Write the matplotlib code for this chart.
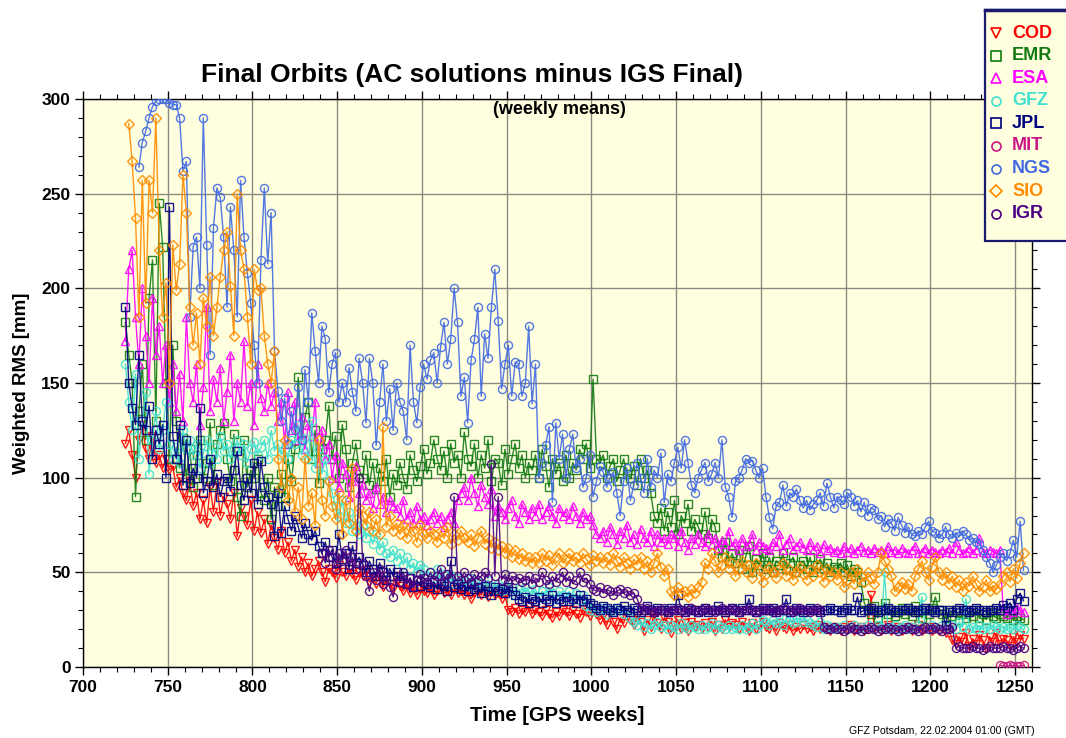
import numpy as np
import matplotlib
matplotlib.use("Agg")
import matplotlib.pyplot as plt
from matplotlib.ticker import MultipleLocator
from matplotlib.lines import Line2D
from matplotlib.patches import Rectangle

plt.rcParams['font.family'] = ['Liberation Sans', 'DejaVu Sans']

# ---------------- data (weekly means, sampled every 2nd GPS week) ----------------
names = ["COD", "EMR", "ESA", "GFZ", "JPL", "MIT", "NGS", "SIO", "IGR"]
colors = ["#FF0000", "#137A13", "#FF00FF", "#40E0D0", "#000080",
          "#C71585", "#4169E1", "#FF8C00", "#4B0082"]
markers = ["v", "s", "^", "o", "s", "o", "o", "D", "o"]
start_week = {"COD": 725, "EMR": 725, "ESA": 725, "GFZ": 725, "JPL": 725,
              "MIT": 1241, "NGS": 733, "SIO": 727, "IGR": 841}
week_step = 2

cod = [118, 125, 112, 100, 120, 128, 115, 110, 122, 108,
       112, 105, 110, 104, 106, 95, 100, 92, 88, 98,
       85, 92, 78, 88, 76, 95, 82, 97, 80, 90,
       86, 78, 92, 69, 84, 80, 75, 88, 72, 82,
       71, 78, 65, 75, 68, 62, 72, 60, 66, 56,
       62, 53, 58, 50, 55, 48, 52, 56, 50, 45,
       52, 50, 47, 54, 50, 48, 52, 49, 46, 50,
       48, 51, 45, 47, 44, 48, 42, 46, 44, 41,
       45, 43, 40, 44, 39, 42, 38, 41, 40, 39,
       41, 38, 40, 42, 39, 40, 38, 41, 39, 40,
       38, 40, 36, 39, 40, 38, 41, 37, 40, 38,
       39, 36, 38, 30, 29, 31, 28, 30, 29, 32,
       28, 30, 29, 27, 30, 28, 26, 29, 27, 30,
       29, 27, 30, 28, 26, 30, 29, 27, 30, 28,
       25, 27, 22, 28, 24, 20, 26, 23, 29, 25,
       22, 27, 24, 19, 25, 21, 28, 23, 20, 26,
       24, 18, 22, 25, 20, 23, 19, 24, 21, 22,
       20, 23, 21, 24, 19, 22, 20, 25, 21, 23,
       22, 20, 24, 21, 19, 23, 20, 22, 24, 21,
       20, 22, 19, 23, 21, 20, 22, 19, 21, 20,
       22, 20, 21, 19, 22, 20, 21, 20, 19, 21,
       20, 19, 21, 20, 22, 19, 20, 21, 19, 20,
       38, 20, 21, 19, 20, 22, 19, 20, 21, 19,
       20, 21, 19, 20, 22, 19, 20, 21, 19, 20,
       19, 20, 18, 20, 14, 12, 16, 13, 18, 11,
       15, 12, 17, 14, 10, 16, 13, 18, 12, 15,
       14, 11, 16, 13, 17, 15]

emr = [182, 165, 150, 90, 135, 160, 120, 195, 215, 130,
       245, 222, 150, 110, 170, 130, 105, 121, 100, 115,
       95, 112, 120, 100, 108, 129, 96, 118, 125, 129,
       110, 98, 123, 90, 80, 120, 95, 104, 100, 110,
       92, 88, 100, 78, 95, 85, 102, 90, 110, 98,
       115, 153, 120, 132, 140, 110, 125, 97, 115, 120,
       138, 110, 122, 100, 128, 115, 95, 108, 118, 104,
       100, 112, 96, 108, 94, 105, 98, 110, 90, 102,
       96, 108, 100, 94, 112, 104, 98, 106, 115, 102,
       108, 120, 110, 104, 114, 100, 118, 108, 112, 100,
       124, 110, 106, 118, 100, 112, 105, 120, 98, 110,
       108, 96, 115, 102, 110, 118, 105, 112, 100, 108,
       104, 112, 100, 115, 106, 95, 110, 102, 108, 98,
       112, 100, 108, 104, 115, 110, 118, 105, 152, 110,
       108, 112, 100, 106, 110, 98, 104, 110, 102, 100,
       106, 96, 110, 100, 104, 92, 80, 76, 84, 72,
       82, 74, 88, 70, 80, 76, 86, 72, 78, 74,
       70, 82, 68, 78, 74, 62, 58, 66, 56, 60,
       55, 62, 52, 58, 64, 50, 57, 54, 60, 52,
       58, 50, 56, 54, 60, 52, 55, 58, 50, 54,
       56, 52, 58, 50, 54, 57, 52, 55, 50, 53,
       52, 55, 50, 54, 48, 52, 50, 45, 34, 30,
       28, 32, 26, 30, 34, 28, 30, 27, 29, 31,
       28, 30, 27, 32, 29, 26, 30, 28, 31, 37,
       30, 28, 26, 29, 27, 30, 25, 28, 26, 29,
       27, 30, 26, 28, 25, 29, 27, 26, 28, 27,
       26, 28, 25, 27, 26, 25]

esa = [172, 210, 220, 185, 160, 200, 175, 150, 195, 165,
       180, 150, 170, 140, 160, 135, 155, 130, 185, 150,
       140, 160, 128, 148, 190, 135, 152, 140, 158, 130,
       145, 165, 130, 150, 140, 172, 138, 150, 128, 160,
       142, 135, 150, 138, 145, 130, 140, 118, 145, 125,
       140, 120, 132, 115, 128, 122, 140, 108, 125, 110,
       118, 100, 112, 95, 108, 102, 90, 98, 106, 92,
       96, 88, 92, 84, 95, 86, 90, 82, 88, 85,
       84, 80, 88, 78, 82, 76, 85, 78, 80, 75,
       78, 82, 76, 80, 74, 78, 82, 76, 88, 92,
       95, 88, 100, 92, 85, 96, 90, 86, 94, 80,
       85, 82, 78, 84, 88, 80, 76, 86, 82, 78,
       84, 80, 86, 78, 82, 85, 80, 76, 84, 80,
       82, 78, 85, 80, 76, 82, 78, 80, 75, 70,
       68, 72, 66, 74, 70, 65, 72, 68, 75, 66,
       70, 65, 73, 68, 66, 72, 64, 70, 66, 68,
       65, 70, 68, 64, 72, 66, 62, 68, 65, 70,
       66, 64, 70, 65, 68, 63, 67, 65, 72, 64,
       66, 62, 68, 64, 65, 70, 62, 66, 64, 63,
       62, 66, 64, 70, 62, 65, 68, 62, 64, 66,
       63, 62, 66, 62, 64, 60, 65, 62, 63, 61,
       62, 60, 64, 61, 63, 60, 62, 64, 61, 62,
       60, 63, 61, 62, 60, 64, 61, 62, 60, 63,
       61, 60, 62, 64, 60, 61, 63, 60, 62, 61,
       60, 62, 61, 63, 60, 66, 62, 60, 61, 63,
       60, 62, 68, 61, 60, 62, 61, 60, 62, 30,
       28, 30, 29, 31, 30, 29]

gfz = [160, 140, 125, 155, 110, 130, 145, 102, 120, 135,
       115, 125, 140, 118, 110, 116, 108, 125, 115, 120,
       112, 118, 105, 113, 120, 108, 116, 110, 122, 114,
       118, 110, 115, 120, 112, 118, 108, 115, 119, 112,
       116, 120, 110, 125, 114, 118, 112, 115, 110, 120,
       118, 128, 112, 121, 110, 130, 105, 115, 102, 110,
       98, 92, 85, 80, 88, 76, 82, 72, 78, 70,
       75, 68, 72, 65, 70, 62, 66, 60, 58, 62,
       56, 60, 54, 58, 52, 55, 50, 54, 52, 48,
       50, 47, 52, 46, 49, 45, 48, 44, 47, 45,
       46, 43, 47, 42, 45, 44, 42, 46, 43, 41,
       44, 40, 43, 41, 42, 38, 41, 39, 42, 40,
       38, 41, 37, 40, 38, 42, 39, 36, 40, 38,
       37, 40, 36, 39, 35, 38, 32, 30, 31, 29,
       30, 31, 28, 30, 29, 31, 30, 28, 30, 26,
       24, 22, 25, 21, 23, 20, 22, 24, 21, 22,
       20, 22, 21, 20, 23, 21, 20, 22, 21, 20,
       22, 20, 21, 23, 20, 22, 21, 20, 22, 20,
       21, 20, 22, 20, 21, 23, 20, 22, 25, 24,
       22, 25, 23, 24, 22, 26, 25, 23, 24, 26,
       24, 25, 23, 22, 21, 24, 20, 22, 21, 20,
       21, 20, 22, 20, 21, 22, 20, 21, 20, 22,
       21, 20, 22, 21, 50, 20, 21, 22, 20, 21,
       22, 20, 21, 20, 22, 37, 21, 20, 22, 21,
       20, 22, 21, 20, 22, 20, 24, 21, 36, 20,
       21, 20, 22, 20, 21, 20, 22, 21, 20, 21,
       20, 21, 20, 22, 21, 20]

jpl = [190, 150, 137, 128, 165, 130, 125, 138, 110, 125,
       118, 128, 100, 243, 122, 110, 128, 96, 120, 97,
       105, 100, 137, 92, 98, 110, 95, 102, 90, 98,
       100, 93, 104, 114, 96, 88, 100, 92, 108, 86,
       109, 95, 90, 86, 69, 92, 71, 85, 78, 72,
       80, 74, 68, 76, 70, 67, 72, 64, 60, 66,
       58, 62, 55, 70, 57, 60, 52, 64, 55, 58,
       54, 50, 56, 52, 48, 55, 50, 46, 52, 48,
       50, 45, 48, 44, 47, 42, 46, 43, 45, 44,
       42, 45, 41, 44, 43, 40, 56, 42, 44, 41,
       43, 40, 44, 41, 42, 39, 43, 40, 38, 42,
       40, 41, 39, 42, 40, 38, 36, 35, 37, 34,
       36, 35, 37, 34, 36, 35, 38, 34, 36, 35,
       37, 35, 36, 34, 38, 35, 36, 34, 33, 31,
       30, 32, 31, 30, 29, 31, 30, 32, 30, 29,
       31, 30, 29, 30, 32, 30, 29, 31, 30, 30,
       29, 31, 30, 38, 30, 29, 31, 30, 30, 29,
       30, 31, 29, 30, 30, 32, 30, 29, 30, 31,
       30, 29, 31, 30, 36, 30, 29, 30, 31, 30,
       30, 31, 29, 30, 30, 36, 29, 30, 31, 30,
       29, 30, 31, 30, 30, 29, 30, 30, 31, 30,
       30, 29, 30, 31, 30, 30, 37, 29, 30, 30,
       31, 30, 29, 30, 30, 31, 30, 29, 30, 30,
       30, 31, 30, 29, 30, 30, 31, 30, 30, 29,
       30, 30, 22, 30, 29, 30, 31, 30, 30, 29,
       30, 31, 30, 30, 29, 30, 30, 31, 30, 33,
       31, 34, 30, 36, 39, 35]

mit = [1, 0.5, 0.5, 1, 0.5, 0.5, 0.5, 1]

ngs = [264, 277, 283, 290, 296, 299, 300, 300, 300, 298,
       297, 297, 290, 262, 267, 185, 222, 227, 200, 290,
       223, 165, 232, 253, 248, 227, 190, 243, 220, 185,
       257, 227, 208, 192, 170, 150, 215, 253, 213, 240,
       167, 146, 130, 142, 118, 135, 125, 148, 120, 157,
       140, 187, 167, 150, 180, 173, 145, 160, 166, 140,
       150, 140, 158, 145, 135, 163, 150, 129, 163, 150,
       117, 140, 160, 130, 147, 125, 150, 140, 135, 120,
       170, 140, 129, 148, 160, 152, 162, 166, 150, 169,
       182, 160, 173, 200, 182, 143, 153, 129, 162, 173,
       190, 143, 176, 163, 190, 210, 183, 147, 160, 170,
       143, 161, 160, 143, 150, 180, 139, 160, 100, 108,
       117, 127, 87, 129, 110, 123, 100, 115, 123, 105,
       110, 95, 100, 112, 90, 98, 106, 103, 95, 100,
       103, 92, 80, 98, 105, 88, 96, 108, 100, 92,
       110, 95, 104, 100, 113, 87, 102, 98, 108, 116,
       105, 120, 108, 96, 92, 100, 104, 108, 98, 102,
       108, 100, 120, 95, 90, 79, 98, 100, 104, 110,
       108, 109, 104, 100, 105, 90, 79, 73, 85, 87,
       96, 85, 92, 90, 94, 88, 84, 88, 83, 86,
       88, 92, 85, 97, 90, 84, 90, 88, 86, 92,
       90, 85, 88, 82, 87, 80, 84, 83, 78, 80,
       74, 78, 76, 72, 79, 75, 71, 74, 70, 69,
       72, 70, 74, 77, 72, 71, 68, 70, 74, 70,
       68, 71, 69, 72, 70, 67, 68, 66, 65, 62,
       58, 55, 50, 54, 58, 60, 56, 60, 67, 58,
       77, 51]

sio = [287, 267, 237, 185, 257, 192, 257, 240, 290, 220,
       185, 203, 150, 223, 199, 213, 260, 240, 190, 170,
       187, 160, 195, 180, 206, 175, 190, 206, 220, 230,
       201, 175, 250, 220, 210, 185, 160, 210, 199, 200,
       175, 160, 150, 167, 110, 95, 120, 88, 100, 82,
       95, 78, 110, 85, 92, 75, 120, 88, 80, 98,
       85, 78, 92, 70, 88, 76, 105, 72, 84, 80,
       75, 82, 72, 78, 70, 127, 74, 80, 72, 76,
       70, 75, 68, 74, 72, 66, 75, 70, 68, 72,
       70, 66, 72, 68, 74, 65, 70, 67, 72, 68,
       66, 70, 64, 68, 72, 65, 68, 63, 66, 62,
       64, 60, 63, 58, 62, 57, 60, 56, 58, 55,
       58, 55, 60, 56, 59, 54, 58, 60, 55, 57,
       60, 56, 58, 55, 60, 57, 54, 59, 56, 58,
       55, 58, 54, 60, 56, 53, 58, 55, 52, 57,
       54, 58, 52, 56, 50, 55, 60, 53, 48, 52,
       40, 38, 42, 39, 40, 37, 41, 39, 42, 45,
       55, 52, 60, 56, 50, 54, 58, 52, 55, 48,
       52, 56, 50, 54, 47, 55, 51, 45, 49, 53,
       50, 47, 52, 55, 48, 51, 46, 50, 53, 49,
       46, 51, 48, 54, 50, 45, 52, 48, 50, 46,
       50, 42, 46, 50, 44, 52, 48, 45, 50, 47,
       44, 50, 60, 56, 52, 48, 40, 42, 45, 41,
       44, 40, 48, 52, 56, 50, 46, 53, 58, 50,
       46, 50, 44, 48, 42, 46, 40, 45, 43, 48,
       44, 40, 42, 46, 40, 43, 41, 44, 48, 50,
       45, 52, 47, 55, 60]

igr = [60, 55, 62, 58, 52, 60, 56, 62, 54, 58,
       52, 100, 55, 48, 40, 50, 46, 52, 44, 48,
       42, 37, 48, 45, 50, 44, 47, 42, 46, 49,
       47, 45, 50, 46, 48, 52, 45, 49, 47, 90,
       48, 46, 50, 47, 45, 49, 46, 48, 50, 47,
       107, 48, 90, 46, 49, 45, 48, 46, 47, 45,
       46, 48, 44, 47, 45, 50, 46, 44, 48, 45,
       47, 50, 45, 48, 44, 46, 50, 45, 47, 44,
       41, 40, 42, 39, 41, 40, 38, 40, 41, 39,
       40, 38, 39, 36, 31, 30, 31, 30, 29, 30,
       30, 31, 29, 30, 30, 31, 30, 29, 30, 31,
       30, 29, 30, 31, 30, 30, 29, 30, 31, 30,
       30, 31, 30, 29, 30, 30, 31, 30, 29, 30,
       30, 30, 31, 29, 30, 30, 31, 30, 30, 29,
       30, 31, 30, 30, 29, 30, 31, 30, 21, 20,
       20, 21, 20, 20, 19, 20, 21, 20, 20, 19,
       20, 20, 21, 20, 19, 20, 20, 21, 20, 20,
       19, 20, 20, 21, 20, 20, 19, 20, 21, 20,
       20, 21, 20, 19, 20, 20, 21, 10, 11, 10,
       10, 10, 11, 10, 10, 9, 10, 11, 10, 10,
       10, 11, 10, 10, 9, 10, 11, 10]

series = {"COD": cod, "EMR": emr, "ESA": esa, "GFZ": gfz, "JPL": jpl,
          "MIT": mit, "NGS": ngs, "SIO": sio, "IGR": igr}

x_ticks = [700, 750, 800, 850, 900, 950, 1000, 1050, 1100, 1150, 1200, 1250]
y_ticks = [0, 50, 100, 150, 200, 250, 300]

# ---------------- figure ----------------
W, H = 1066, 738
fig = plt.figure(figsize=(W / 100, H / 100), dpi=100)
ax = fig.add_axes([83 / W, 1 - 667 / H, (1032 - 83) / W, (667 - 99) / H])
ax.set_facecolor("#FFFFE0")

for name, col, mk in zip(names, colors, markers):
    vals = np.asarray(series[name], dtype=float)
    x = start_week[name] + week_step * np.arange(len(vals))
    ms = 5.0 if mk == "D" else 5.8
    ax.plot(x, vals, color=col, lw=1.0, marker=mk, ms=ms, mfc="none",
            mec=col, mew=1.0, alpha=0.9, label=name, zorder=3)

ax.set_xlim(700, 1260)
ax.set_ylim(0, 300)
ax.set_xticks(x_ticks)
ax.set_yticks(y_ticks)
ax.xaxis.set_minor_locator(MultipleLocator(10))
ax.yaxis.set_minor_locator(MultipleLocator(10))
ax.grid(True, which="major", color="#8a8a80", lw=1.0, zorder=1)
ax.tick_params(which="both", direction="out", top=True, right=True,
               labeltop=False, labelright=False, colors="black")
ax.tick_params(which="major", length=6, width=1, labelsize=12.5, pad=3)
ax.tick_params(which="minor", length=3.5, width=0.8)
for lab in ax.get_xticklabels() + ax.get_yticklabels():
    lab.set_fontweight("bold")
for sp in ax.spines.values():
    sp.set_color("black")
    sp.set_linewidth(1.0)

ax.set_xlabel("Time [GPS weeks]", fontsize=14.5, fontweight="bold", labelpad=8)
ax.set_ylabel("Weighted RMS [mm]", fontsize=13.5, fontweight="bold", labelpad=8)

fig.text(472 / W, 1 - 75 / H, "Final Orbits (AC solutions minus IGS Final)",
         ha="center", va="center", fontsize=19, fontweight="bold")
fig.text(559 / W, 1 - 110 / H, "(weekly means)", ha="center",
         va="center", fontsize=13, fontweight="bold")
fig.text(1035 / W, 1 - 731 / H, "GFZ Potsdam, 22.02.2004 01:00 (GMT)",
         ha="right", va="center", fontsize=7.6)

# ---------------- legend box (top right) ----------------
fig.patches.append(Rectangle((985 / W, 1 - 241 / H), (1075 - 985) / W, (241 - 10) / H,
                             transform=fig.transFigure, facecolor="#FFFFE0",
                             edgecolor="#1a1a70", lw=1.6, zorder=5))
fig.add_artist(Line2D([985 / W, 1.0], [1 - 10 / H, 1 - 10 / H],
                      transform=fig.transFigure, color="#1a1a70", lw=2.5, zorder=6))
for i, (name, col, mk) in enumerate(zip(names, colors, markers)):
    yy = 1 - (33 + 22.6 * i) / H
    fig.add_artist(Line2D([996 / W], [yy], transform=fig.transFigure, ls="none",
                          marker=mk, ms=(6.5 if mk != "D" else 6), mfc="none",
                          mec=col, mew=1.2, zorder=7))
    fig.text(1012 / W, yy, name, color=col, fontsize=13, fontweight="bold",
             ha="left", va="center", zorder=7)

fig.savefig("out.png", dpi=100)
